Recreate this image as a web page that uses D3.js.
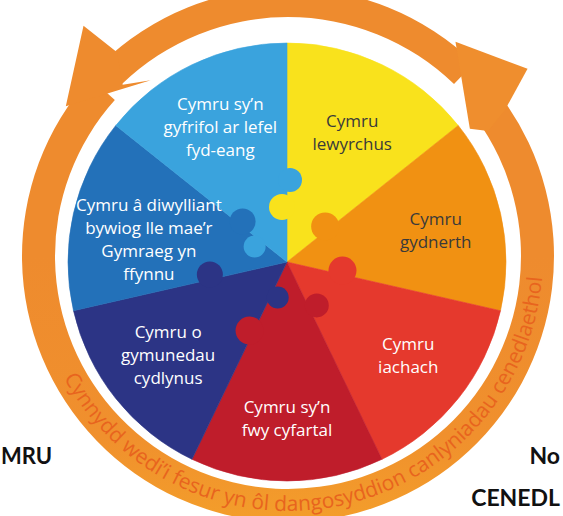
<!DOCTYPE html>
<html><head><meta charset="utf-8">
<script src="https://cdn.jsdelivr.net/npm/d3@7"></script>
<style>html,body{margin:0;padding:0;background:#fff;overflow:hidden}</style>
</head><body><svg id="chart" width="563" height="516"></svg>
<script>
// ---- data ----
const goalLines = [
  ["Cymru","lewyrchus"],
  ["Cymru","gydnerth"],
  ["Cymru","iachach"],
  ["Cymru sy’n","fwy cyfartal"],
  ["Cymru o","gymunedau","cydlynus"],
  ["Cymru â diwylliant","bywiog lle mae’r","Gymraeg yn","ffynnu"],
  ["Cymru sy’n","gyfrifol ar lefel","fyd-eang"]
];
const shares = [1,1,1,1,1,1,1];
const sliceColors = ["#F9E21C","#F19112","#E5392D","#BF1D2B","#2C3485","#2371B9","#3AA3DD"];
const labelColors = ["#3a3a3a","#3a3a3a","#ffffff","#ffffff","#ffffff","#ffffff","#ffffff"];
const ringText = "Cynnydd wedi’i fesur yn ôl dangosyddion canlyniadau cenedlaethol";
const sideLeft = "MRU";
const sideRight1 = "No";
const sideRight2 = "CENEDL";

// ---- layout ----
const W = 563, H = 516, deg = Math.PI/180;
const cx = 287, cy = 262, R = 219;
const rcx = 288, rcy = 256, rIn = 233, rOut = 266;
const labelR = [145,152,153,156,151,140,151];
const labelNudge = [1,1,-1,0,0.5,-3.5,-0.5];
const knobs = [
  {owner:6, edge:"end",   d:82, off:3, r:12},
  {owner:0, edge:"start", d:55, off:5, r:13},
  {owner:1, edge:"start", d:52, off:4, r:14},
  {owner:2, edge:"start", d:56, off:4, r:14},
  {owner:3, edge:"start", d:52, off:8, r:12},
  {owner:3, edge:"end",   d:78, off:4, r:14},
  {owner:4, edge:"start", d:36, off:7, r:11},
  {owner:4, edge:"end",   d:78, off:5, r:13},
  {owner:5, edge:"end",   d:60, off:4, r:13},
  {owner:6, edge:"start", d:35, off:8, r:11}
];

const svg = d3.select("#chart");
const defs = svg.append("defs");
defs.append("clipPath").attr("id","pieclip").append("circle").attr("r",R);
const grad = defs.append("linearGradient").attr("id","ringgrad")
  .attr("gradientUnits","userSpaceOnUse").attr("x1",0).attr("y1",0).attr("x2",0).attr("y2",H);
[[0,"#EE8B2E"],[0.35,"#F0902D"],[0.55,"#F4A12A"],[0.72,"#F8BC23"],[0.88,"#FBD41B"],[1,"#FDDC17"]]
  .forEach(([o,c])=>grad.append("stop").attr("offset",o).attr("stop-color",c));

// ---- ring arrows ----
const ring = svg.append("g").attr("transform",`translate(${rcx},${rcy})`);
const bandA = d3.arc().innerRadius(239).outerRadius(268);
const bandB = d3.arc().innerRadius(rIn).outerRadius(rOut);
ring.append("path").attr("d", bandA({startAngle:-44*deg, endAngle:44*deg})).attr("fill","#EE8B2E");
ring.append("path").attr("d", bandB({startAngle:54*deg, endAngle:312*deg})).attr("fill","url(#ringgrad)");
const pol = (a,r)=>[r*Math.sin(a*deg), -r*Math.cos(a*deg)];
function head(pts, fill){
  ring.append("path").attr("d", d3.line()(pts.map(p=>pol(p[0],p[1])))+"Z").attr("fill",fill);
}
head([[-40,266],[-41.6,308],[-56,268],[-38,223],[-44,238]], "#EE8B2E");
head([[56,262],[52,304],[38,272],[55,222],[58,236]], "#EF8E2E");

// ring text: one text per word along an arc
const tcx = 288, tcy = 256;
const tR = 255, a1 = 241.5, aEnd = 94.7, a2 = 80;
const p1 = pol(a1,tR), p2 = pol(a2,tR);
defs.append("path").attr("id","ringpath")
  .attr("d",`M${p1[0]+tcx},${p1[1]+tcy} A${tR},${tR} 0 0 0 ${p2[0]+tcx},${p2[1]+tcy}`);
const targetLen = tR*(a1-aEnd)*deg;
const probe = svg.append("text").attr("font-family","'Open Sans',sans-serif").attr("font-size",20);
const probeTP = probe.append("textPath").attr("href","#ringpath").text(ringText);
const natural = probe.node().getComputedTextLength();
const fs = 20*targetLen/natural;
probe.attr("font-size",fs);
const words = ringText.split(" ");
const offs = []; let idx = 0;
words.forEach(w=>{ offs.push(idx===0?0:probeTP.node().getSubStringLength(0,idx)); idx += w.length+1; });
probe.remove();
words.forEach((w,i)=>{
  svg.append("text").attr("font-family","'Open Sans',sans-serif").attr("font-size",fs)
    .attr("fill","#E8641E")
    .append("textPath").attr("href","#ringpath").attr("startOffset",offs[i]).text(w);
});

// ---- pie ----
const pie = d3.pie().sort(null).startAngle(0).endAngle(2*Math.PI)(shares);
const arc = d3.arc().innerRadius(0).outerRadius(R);
const g = svg.append("g").attr("transform",`translate(${cx},${cy})`);
g.selectAll("path.slice").data(pie).join("path").attr("class","slice")
  .attr("d",arc).attr("fill",(d,i)=>sliceColors[i])
  .attr("stroke",(d,i)=>sliceColors[i]).attr("stroke-width",0.6);

const kg = g.append("g").attr("clip-path","url(#pieclip)");
knobs.forEach(k=>{
  const p = pie[k.owner];
  const a = k.edge==="end" ? p.endAngle : p.startAngle;
  const u = [Math.sin(a), -Math.cos(a)];
  const n = k.edge==="end" ? [Math.cos(a), Math.sin(a)] : [-Math.cos(a), -Math.sin(a)];
  kg.append("circle")
    .attr("cx", u[0]*k.d + n[0]*k.off)
    .attr("cy", u[1]*k.d + n[1]*k.off)
    .attr("r", k.r).attr("fill", sliceColors[k.owner]);
});

// labels
const lh = 23;
pie.forEach((p,i)=>{
  const a = (p.startAngle+p.endAngle)/2 + labelNudge[i]*deg;
  const x = labelR[i]*Math.sin(a), y = -labelR[i]*Math.cos(a);
  const lines = goalLines[i];
  lines.forEach((s,j)=>{
    g.append("text").attr("text-anchor","middle")
      .attr("font-family","'Open Sans',sans-serif").attr("font-size",17)
      .attr("fill",labelColors[i])
      .attr("x",x).attr("y", y + (j-(lines.length-1)/2)*lh + 6).text(s);
  });
});

// ---- side labels ----
const side = svg.append("g").attr("font-family","Lato,sans-serif").attr("font-weight",700)
  .attr("fill","#111");
side.append("text").attr("x",1).attr("y",464).attr("font-size",22).text(sideLeft);
side.append("text").attr("x",560).attr("y",464).attr("font-size",23).attr("text-anchor","end").text(sideRight1);
side.append("text").attr("x",560).attr("y",506).attr("font-size",23).attr("text-anchor","end").text(sideRight2);
</script>
</body></html>
